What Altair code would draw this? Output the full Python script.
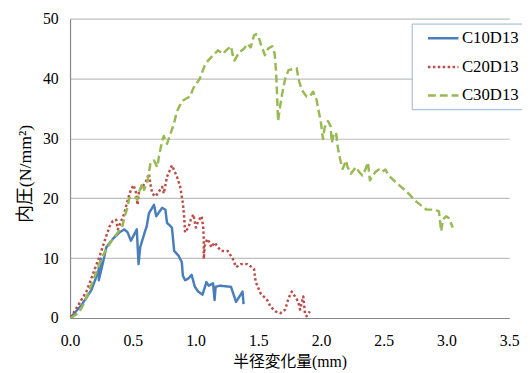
import altair as alt
import pandas as pd

series_names = ["C10D13", "C20D13", "C30D13"]

c10_x = [0.006, 0.093, 0.171, 0.224, 0.245, 0.229, 0.263, 0.289, 0.341, 0.394, 0.433, 0.459, 0.485, 0.532,
         0.546, 0.559, 0.595, 0.611, 0.629, 0.669, 0.687, 0.734, 0.760, 0.773, 0.812, 0.830, 0.865, 0.891,
         0.899, 0.917, 0.943, 0.969, 0.995, 1.022, 1.056, 1.087, 1.105, 1.140, 1.152, 1.160, 1.192, 1.283,
         1.323, 1.375, 1.383]
c10_y = [0.1, 2.2, 4.7, 7.7, 9.9, 6.3, 9.3, 11.8, 13.2, 14.3, 14.8, 14.3, 12.9, 14.8,
         9.0, 11.8, 14.3, 15.3, 17.5, 18.9, 17.0, 18.4, 18.1, 15.9, 15.1, 11.2, 10.4, 9.3,
         7.1, 6.3, 6.6, 7.2, 5.2, 4.4, 3.9, 6.0, 5.4, 5.8, 3.0, 5.2, 5.4, 5.2,
         2.7, 4.4, 2.3]

c20_x = [0.006, 0.067, 0.130, 0.198, 0.237, 0.276, 0.315, 0.341, 0.368, 0.381, 0.433, 0.459, 0.485, 0.506,
         0.524, 0.538, 0.551, 0.577, 0.603, 0.629, 0.642, 0.655, 0.681, 0.708, 0.734, 0.747, 0.773, 0.812,
         0.852, 0.878, 0.899, 0.909, 0.917, 0.943, 0.962, 0.983, 1.003, 1.022, 1.048, 1.061, 1.066, 1.066,
         1.074, 1.093, 1.113, 1.126, 1.152, 1.179, 1.205, 1.257, 1.297, 1.323, 1.362, 1.414, 1.448, 1.466,
         1.480, 1.519, 1.571, 1.597, 1.637, 1.676, 1.715, 1.741, 1.767, 1.793, 1.819, 1.833, 1.859, 1.872,
         1.885, 1.911]
c20_y = [0.1, 2.2, 4.4, 8.2, 10.4, 12.9, 15.3, 16.2, 16.4, 14.8, 17.5, 19.7, 21.4, 22.2,
         21.1, 18.9, 21.4, 21.9, 22.7, 24.1, 22.2, 20.8, 20.3, 21.1, 21.9, 20.8, 23.6, 25.5,
         23.6, 21.9, 19.2, 17.0, 14.3, 15.1, 16.4, 17.3, 15.1, 16.2, 17.0, 15.3, 13.2, 9.9,
         12.1, 13.2, 12.6, 11.8, 12.6, 11.8, 11.2, 11.2, 9.9, 8.5, 9.0, 9.0, 8.5, 8.2,
         6.0, 4.1, 3.0, 1.9, 1.1, 0.8, 1.4, 3.3, 4.4, 3.6, 2.7, 1.4, 3.6, 0.8,
         0.3, 1.1]

c30_x = [0.006, 0.067, 0.119, 0.158, 0.211, 0.250, 0.289, 0.341, 0.381, 0.415, 0.433, 0.459, 0.472, 0.511,
         0.538, 0.551, 0.577, 0.590, 0.616, 0.642, 0.669, 0.695, 0.708, 0.734, 0.747, 0.773, 0.799, 0.826,
         0.852, 0.891, 0.930, 0.956, 0.983, 1.009, 1.035, 1.048, 1.074, 1.100, 1.140, 1.179, 1.218, 1.244,
         1.283, 1.297, 1.310, 1.349, 1.388, 1.414, 1.440, 1.466, 1.480, 1.500, 1.519, 1.553, 1.579, 1.611,
         1.631, 1.642, 1.650, 1.658, 1.676, 1.694, 1.715, 1.741, 1.807, 1.820, 1.846, 1.885, 1.911, 1.937,
         1.964, 1.982, 1.998, 2.016, 2.029, 2.055, 2.076, 2.086, 2.102, 2.120, 2.134, 2.155, 2.173, 2.199,
         2.212, 2.238, 2.278, 2.304, 2.330, 2.356, 2.374, 2.390, 2.408, 2.434, 2.461, 2.487, 2.513, 2.539,
         2.605, 2.683, 2.762, 2.840, 2.906, 2.940, 2.958, 2.971, 2.997, 3.018, 3.050]
c30_y = [0.0, 0.8, 2.7, 4.9, 7.7, 9.9, 11.5, 13.2, 14.3, 15.2, 16.7, 18.6, 20.0, 20.3,
         19.8, 21.1, 22.5, 21.4, 22.7, 26.0, 26.3, 25.2, 26.9, 29.6, 30.4, 29.1, 30.7, 32.3,
         34.5, 36.2, 36.7, 37.0, 38.4, 39.2, 40.0, 40.8, 42.2, 43.0, 43.9, 44.7, 44.1, 44.7,
         45.4, 43.9, 43.0, 44.4, 45.0, 45.8, 45.2, 47.2, 47.4, 47.2, 45.8, 43.9, 45.0, 45.4,
         44.1, 41.1, 37.3, 32.9, 35.6, 37.8, 40.0, 41.4, 41.7, 40.0, 38.1, 37.0, 37.0, 37.8,
         36.5, 34.5, 32.9, 29.9, 31.8, 32.9, 32.1, 29.3, 30.7, 31.0, 28.5, 26.3, 24.9, 26.3,
         25.2, 24.1, 25.2, 24.4, 23.8, 24.9, 26.0, 23.0, 23.6, 24.4, 24.8, 24.4, 24.8, 23.8,
         22.5, 21.1, 19.4, 18.1, 18.1, 17.8, 14.5, 16.4, 17.0, 16.7, 15.1]

rows = []
for name, xs, ys in zip(series_names, [c10_x, c20_x, c30_x], [c10_y, c20_y, c30_y]):
    for i, (xv, yv) in enumerate(zip(xs, ys)):
        rows.append({"series": name, "x": xv, "y": yv, "i": i})
df = pd.DataFrame(rows)

FONT = "'Liberation Serif', 'Noto Sans CJK JP', serif"

chart = alt.Chart(df).mark_line(strokeWidth=2.5, strokeCap="butt", strokeJoin="round").encode(
    x=alt.X("x:Q", scale=alt.Scale(domain=[0, 3.5], nice=False),
            axis=alt.Axis(title="半径変化量(mm)", values=[0, 0.5, 1, 1.5, 2, 2.5, 3, 3.5], format=".1f",
                          grid=False, ticks=False, tickSize=0, labelPadding=15, titlePadding=5,
                          domainColor="#868686", labelFlush=False, titleFontSize=16, labelFontSize=16,
                          labelFont=FONT, titleFont=FONT)),
    y=alt.Y("y:Q", scale=alt.Scale(domain=[0, 50], nice=False),
            axis=alt.Axis(title="内圧(N/mm²)", values=[0, 10, 20, 30, 40, 50], grid=True,
                          gridColor="#bfbfbf", gridWidth=1.2, ticks=False, tickSize=0, labelPadding=12,
                          titlePadding=8, titleY=157, domainColor="#868686", titleFontSize=18,
                          labelFontSize=16, labelFont=FONT, titleFont=FONT)),
    color=alt.Color("series:N", scale=alt.Scale(domain=series_names, range=["#4a7ebb", "#be4b48", "#98b954"]),
                    legend=alt.Legend(title=None, orient="none", legendX=347, legendY=5,
                                      symbolType="M-2,0H2", symbolSize=240, symbolStrokeWidth=2.5,
                                      symbolOffset=17,
                                      labelFontSize=17, labelFont=FONT, labelColor="#000000",
                                      rowPadding=12, padding=6, labelOffset=10,
                                      strokeColor="#95b3d7", fillColor="#ffffff")),
    strokeDash=alt.StrokeDash("series:N", scale=alt.Scale(domain=series_names, range=[[1, 0], [2.5, 2.5], [8, 4]]),
                              legend=None),
    order="i:Q",
).properties(
    width=446, height=304,
    autosize=alt.AutoSizeParams(type="none"),
    padding={"left": 63, "top": 8, "right": 13, "bottom": 50},
).configure(font=FONT).configure_view(stroke=None).configure_axis(
    labelColor="#000000", titleColor="#000000", titleFontWeight="normal", domainWidth=1.2
)

chart.save("out.html", embed_options={"renderer": "svg", "actions": False})
